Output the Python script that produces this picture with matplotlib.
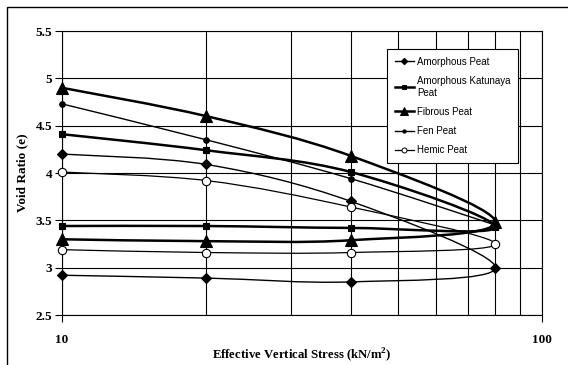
import numpy as np
import matplotlib.pyplot as plt
from matplotlib.path import Path
from matplotlib.patches import PathPatch, Rectangle
from matplotlib.lines import Line2D

# Loading 10 -> 80 kPa, then unloading back to 10 kPa
stress_load = [10, 20, 40, 80]
stress_unload = [40, 20, 10]

amorphous_load = [4.20, 4.09, 3.70, 3.00]
amorphous_unload = [2.85, 2.89, 2.92]
katunaya_load = [4.41, 4.24, 4.01, 3.43]
katunaya_unload = [3.42, 3.44, 3.44]
fibrous_load = [4.90, 4.60, 4.18, 3.48]
fibrous_unload = [3.29, 3.28, 3.30]
fen_load = [4.73, 4.35, 3.94, 3.45]
hemic_load = [4.01, 3.92, 3.64, 3.25]
hemic_unload = [3.16, 3.16, 3.19]

labels = ['Amorphous Peat', 'Amorphous Katunaya\nPeat', 'Fibrous Peat', 'Fen Peat', 'Hemic Peat']


def smooth_path(xs, ys):
    # Catmull-Rom style bezier through the points, worked out in log10(x)
    p = np.column_stack([np.log10(xs), ys])
    n = len(p)
    verts = [p[0]]
    codes = [Path.MOVETO]
    for i in range(n - 1):
        prev = p[i - 1] if i > 0 else p[i]
        nxt = p[i + 2] if i + 2 < n else p[i + 1]
        c1 = p[i] + (p[i + 1] - prev) / 6
        c2 = p[i + 1] - (nxt - p[i]) / 6
        verts += [c1, c2, p[i + 1]]
        codes += [Path.CURVE4] * 3
    verts = np.array(verts)
    verts[:, 0] = 10 ** verts[:, 0]
    return Path(verts, codes)


fig = plt.figure(figsize=(5.68, 3.65), dpi=100)
ax = fig.add_axes([62 / 568, 50 / 365, 480 / 568, 284 / 365])

# frame around the whole chart
fig.patches.append(Rectangle((7 / 568, -0.05), 1.0, (358 / 365) + 0.05, transform=fig.transFigure,
                             fill=False, edgecolor='black', linewidth=1.0))

series = [
    (amorphous_load, amorphous_unload, 'D', 5.5, 'black', 1.0),
    (katunaya_load, katunaya_unload, 's', 4.5, 'black', 1.8),
    (fibrous_load, fibrous_unload, '^', 8.5, 'black', 1.8),
    (fen_load, None, 'o', 4, 'black', 1.0),
    (hemic_load, hemic_unload, 'o', 6, 'white', 0.9),
]

handles = []
for (load, unload, mk, ms, face, lw), lab in zip(series, labels):
    xs = list(stress_load)
    ys = list(load)
    if unload is not None:
        xs += stress_unload
        ys += unload
    ax.add_patch(PathPatch(smooth_path(xs, ys), fill=False, edgecolor='black', linewidth=lw, zorder=3))
    ax.plot(xs, ys, linestyle='none', marker=mk, markersize=ms, markerfacecolor=face,
            markeredgecolor='black', markeredgewidth=0.8, zorder=4, clip_on=False)
    handles.append(Line2D([], [], color='black', linewidth=lw, marker=mk, markersize=ms * 0.6,
                          markerfacecolor=face, markeredgecolor='black', markeredgewidth=0.7))

ax.set_xscale('log')
ax.set_xlim(10, 100)
ax.set_ylim(2.5, 5.5)
ax.set_yticks([2.5, 3, 3.5, 4, 4.5, 5, 5.5])
ax.set_yticklabels(['2.5', '3', '3.5', '4', '4.5', '5', '5.5'])
ax.set_xticks([10, 100])
ax.set_xticklabels(['10', '100'])
ax.set_xticks(np.arange(20, 100, 10), minor=True)
ax.xaxis.set_minor_formatter(plt.NullFormatter())
ax.tick_params(axis='x', which='minor', length=0)
ax.tick_params(axis='x', which='major', length=5, width=0.8, pad=9, direction='out')
ax.tick_params(axis='y', length=5, width=0.8, pad=2, direction='out')
ax.grid(True, which='both', color='black', linewidth=0.8)
ax.set_axisbelow(True)
for s in ax.spines.values():
    s.set_linewidth(0.8)

for t in ax.get_xticklabels() + ax.get_yticklabels():
    t.set_fontfamily('Liberation Serif')
    t.set_fontweight('bold')
    t.set_fontsize(9.5)

ax.set_xlabel('Effective Vertical Stress (kN/m$^\\mathregular{2}$)', fontfamily='Liberation Serif',
              fontweight='bold', fontsize=9.2, labelpad=0)
ax.set_ylabel('Void Ratio (e)', fontfamily='Liberation Serif', fontweight='bold', fontsize=9.5, labelpad=5)

leg = ax.legend(handles, labels, loc='upper left', bbox_to_anchor=(0.677, 0.937),
                prop={'family': 'Liberation Sans', 'size': 7}, frameon=True, fancybox=False,
                edgecolor='black', framealpha=1, handlelength=2.0, handletextpad=0.3,
                labelspacing=0.95, borderpad=0.8, borderaxespad=0)
leg.get_frame().set_linewidth(0.8)
leg.set_zorder(5)

plt.savefig('out.png', dpi=100)
